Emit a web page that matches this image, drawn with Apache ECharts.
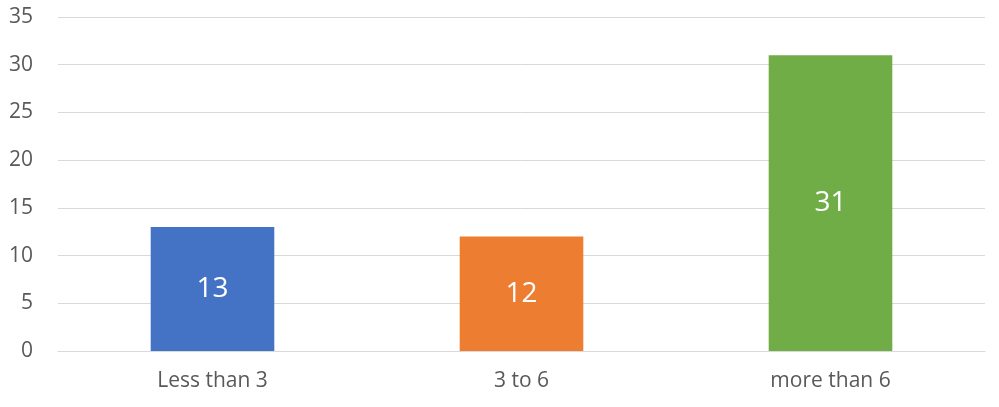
<!DOCTYPE html>
<html lang="en">
<head>
    <meta charset="UTF-8">
    <title>Bar chart</title>
    <script type="text/javascript" src="https://cdn.jsdelivr.net/npm/echarts@6.0.0/dist/echarts.min.js"></script>
    <style type="text/css">
        html, body {
            margin: 0;
            padding: 0;
            height: 100%;
            width: 100%;
            background: #fff;
        }
        #echarts {
            height: 407px;
            width: 999px;
        }
    </style>
</head>
<body>

<div id="echarts"></div>

<script type="text/javascript">
      var categories = ['Less than 3', '3 to 6', 'more than 6'];
      var values = [13, 12, 31];
      var barColors = ['#4472C4', '#ED7D31', '#70AD47'];

      var myChart = echarts.init(document.getElementById("echarts"));

      var option = {
          animation: false,
          textStyle: { fontFamily: 'Open Sans' },
          grid: { left: 58, right: 14, top: 17, bottom: 56, containLabel: false },
          xAxis: {
              type: 'category',
              data: categories,
              axisTick: { show: false },
              axisLine: { lineStyle: { color: '#d9d9d9', width: 1 } },
              axisLabel: { color: '#595959', fontSize: 21, margin: 20 }
          },
          yAxis: {
              type: 'value',
              min: 0,
              max: 35,
              interval: 5,
              axisLine: { show: false },
              axisTick: { show: false },
              axisLabel: { color: '#595959', fontSize: 21, margin: 25 },
              splitLine: { lineStyle: { color: '#d9d9d9', width: 1 } }
          },
          series: [
              {
                  type: 'bar',
                  barWidth: '40%',
                  data: values.map(function (v, i) {
                      return { value: v, itemStyle: { color: barColors[i] } };
                  }),
                  label: {
                      show: true,
                      position: 'inside',
                      color: '#fff',
                      fontSize: 28
                  }
              }
          ]
      };
      myChart.setOption(option);
</script>

</body>
</html>
